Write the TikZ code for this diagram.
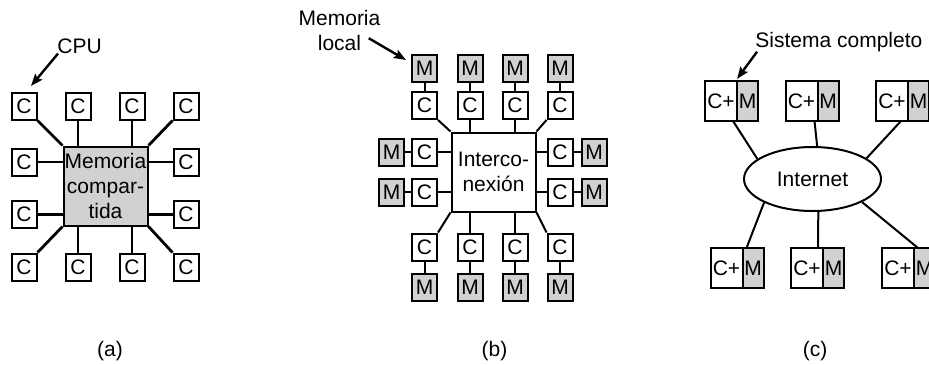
\documentclass[tikz,border=0pt]{standalone}
\usepackage{fontspec}
\setmainfont{Liberation Sans}
\usepackage{tikz}
\usetikzlibrary{shapes.geometric, arrows.meta, positioning}
\definecolor{boxgray}{gray}{0.82}

\begin{document}
\begin{tikzpicture}[
    x=0.5pt, y=-0.5pt,
    font=\fontsize{10.5}{12.5}\selectfont,
    cbox/.style={rectangle, draw, line width=1pt, minimum width=12.5pt, minimum height=13.5pt, inner sep=0pt},
    mbox/.style={cbox, fill=boxgray},
    bigbox/.style={rectangle, draw, line width=1pt, minimum width=42pt, minimum height=39.5pt, inner sep=0pt, align=center},
    cpart/.style={rectangle, draw, line width=1pt, minimum width=16pt, minimum height=20pt, inner sep=0pt, outer sep=0pt},
    mpart/.style={cpart, minimum width=10.5pt, fill=boxgray},
    net/.style={ellipse, draw, line width=1pt, minimum width=68.5pt, minimum height=32pt, inner sep=0pt},
    link/.style={line width=1pt},
    thicklink/.style={line width=1.4pt},
    lbl/.style={inner sep=0pt},
    arr/.style={-{Stealth[length=6pt, width=4.5pt, inset=1pt]}, line width=1.2pt}
]
\useasboundingbox (0,0) rectangle (929,364);
\clip (0,0) rectangle (929,364);

% (a) Shared memory
\node[bigbox, fill=boxgray] (mem) at (105.5,186) {Memoria\\compar-\\tida};
\node[cbox] (a1)  at (24,106)    {C};
\node[cbox] (a2)  at (78,106)    {C};
\node[cbox] (a3)  at (132,106)   {C};
\node[cbox] (a4)  at (186,106)   {C};
\node[cbox] (a5)  at (24,162)    {C};
\node[cbox] (a6)  at (186,162)   {C};
\node[cbox] (a7)  at (24,214.5)  {C};
\node[cbox] (a8)  at (186,214.5) {C};
\node[cbox] (a9)  at (24,267)    {C};
\node[cbox] (a10) at (78,267)    {C};
\node[cbox] (a11) at (132,267)   {C};
\node[cbox] (a12) at (186,267)   {C};

\draw[thicklink] (a1.south east)  -- (mem.north west);
\draw[thicklink] (a2)  -- (a2 |- mem.north);
\draw[thicklink] (a3)  -- (a3 |- mem.north);
\draw[thicklink] (a4.south west)  -- (mem.north east);
\draw[thicklink] (a5)  -- (a5 -| mem.west);
\draw[thicklink] (a7)  -- (a7 -| mem.west);
\draw[thicklink] (a6)  -- (a6 -| mem.east);
\draw[thicklink] (a8)  -- (a8 -| mem.east);
\draw[thicklink] (a9.north east)  -- (mem.south west);
\draw[thicklink] (a10) -- (a10 |- mem.south);
\draw[thicklink] (a11) -- (a11 |- mem.south);
\draw[thicklink] (a12.north west) -- (mem.south east);

\node[lbl, anchor=base west] (cpu) at (57,53) {CPU};
\draw[arr] ([xshift=0.5pt]cpu.south west) -- ([xshift=-3.25pt, yshift=2.75pt]a1.north east);

% (b) Interconnect with local memories
\node[bigbox] (ic) at (493.5,172) {Interco-\\nexión};
\node[cbox] (bc1)  at (424.5,105.5) {C};
\node[cbox] (bc2)  at (470,105.5)   {C};
\node[cbox] (bc3)  at (515,105.5)   {C};
\node[cbox] (bc4)  at (560,105.5)   {C};
\node[cbox] (bc5)  at (424.5,152)   {C};
\node[cbox] (bc6)  at (424.5,192)   {C};
\node[cbox] (bc7)  at (560,152)     {C};
\node[cbox] (bc8)  at (560,192)     {C};
\node[cbox] (bc9)  at (424.5,247)   {C};
\node[cbox] (bc10) at (470,247)     {C};
\node[cbox] (bc11) at (515,247)     {C};
\node[cbox] (bc12) at (560,247)     {C};

\node[mbox, above=4pt of bc1]   (bm1)  {M};
\node[mbox, above=4pt of bc2]   (bm2)  {M};
\node[mbox, above=4pt of bc3]   (bm3)  {M};
\node[mbox, above=4pt of bc4]   (bm4)  {M};
\node[mbox, left=3pt of bc5]    (bm5)  {M};
\node[mbox, left=3pt of bc6]    (bm6)  {M};
\node[mbox, right=3.5pt of bc7] (bm7)  {M};
\node[mbox, right=3.5pt of bc8] (bm8)  {M};
\node[mbox, below=5.5pt of bc9]  (bm9)  {M};
\node[mbox, below=5.5pt of bc10] (bm10) {M};
\node[mbox, below=5.5pt of bc11] (bm11) {M};
\node[mbox, below=5.5pt of bc12] (bm12) {M};

\draw[link] (bc1.south east)  -- (ic.north west);
\draw[link] (bc2)  -- (bc2 |- ic.north);
\draw[link] (bc3)  -- (bc3 |- ic.north);
\draw[link] (bc4.south west)  -- (ic.north east);
\draw[link] (bc5)  -- (bc5 -| ic.west);
\draw[link] (bc6)  -- (bc6 -| ic.west);
\draw[link] (bc7)  -- (bc7 -| ic.east);
\draw[link] (bc8)  -- (bc8 -| ic.east);
\draw[link] (bc9.north east)  -- (ic.south west);
\draw[link] (bc10) -- (bc10 |- ic.south);
\draw[link] (bc11) -- (bc11 |- ic.south);
\draw[link] (bc12.north west) -- (ic.south east);

\draw[link] (bc1) -- (bm1);   \draw[link] (bc2) -- (bm2);
\draw[link] (bc3) -- (bm3);   \draw[link] (bc4) -- (bm4);
\draw[link] (bc5) -- (bm5);   \draw[link] (bc6) -- (bm6);
\draw[link] (bc7) -- (bm7);   \draw[link] (bc8) -- (bm8);
\draw[link] (bc9) -- (bm9);   \draw[link] (bc10) -- (bm10);
\draw[link] (bc11) -- (bm11); \draw[link] (bc12) -- (bm12);

\node[lbl, align=center, anchor=north] (memloc) at (339.5,10) {Memoria\\local};
\draw[arr] ([xshift=-6pt, yshift=6.5pt]memloc.south east) -- ([xshift=-2.5pt, yshift=-3pt]bm1.north west);

% (c) Complete systems over the Internet
\node[net] (inet) at (812.5,179) {Internet};
\node[cpart] (s1) at (721,101)   {C+};
\node[mpart, right=0pt of s1] (s1m) {M};
\node[cpart] (s2) at (801.5,101) {C+};
\node[mpart, right=0pt of s2] (s2m) {M};
\node[cpart] (s3) at (892,101)   {C+};
\node[mpart, right=0pt of s3] (s3m) {M};
\node[cpart] (s4) at (726.5,268) {C+};
\node[mpart, right=0pt of s4] (s4m) {M};
\node[cpart] (s5) at (807,268)   {C+};
\node[mpart, right=0pt of s5] (s5m) {M};
\node[cpart] (s6) at (898,268)   {C+};
\node[mpart, right=0pt of s6] (s6m) {M};

\draw[link] ([xshift=-2pt]s1.south east)   -- (inet.160);
\draw[link] ([xshift=-1.5pt]s2.south east) -- (inet.82);
\draw[link] ([xshift=-3.5pt]s3.south east) -- (inet.21);
\draw[link] ([xshift=2pt]s4.north east)    -- (inet.206);
\draw[link] ([xshift=-2.5pt]s5.north east) -- (inet.280);
\draw[link] ([xshift=2pt]s6.north east)    -- (inet.335);

\node[lbl, anchor=base west] (sis) at (755,47) {Sistema completo};
\draw[arr] ([xshift=1pt]sis.south west) -- ([yshift=1pt]s1.north east);

% Captions
\node[lbl] (capa) at (110,351)   {(a)};
\node[lbl] (capb) at (494.5,351) {(b)};
\node[lbl] (capc) at (815,351)   {(c)};
\end{tikzpicture}
\end{document}
